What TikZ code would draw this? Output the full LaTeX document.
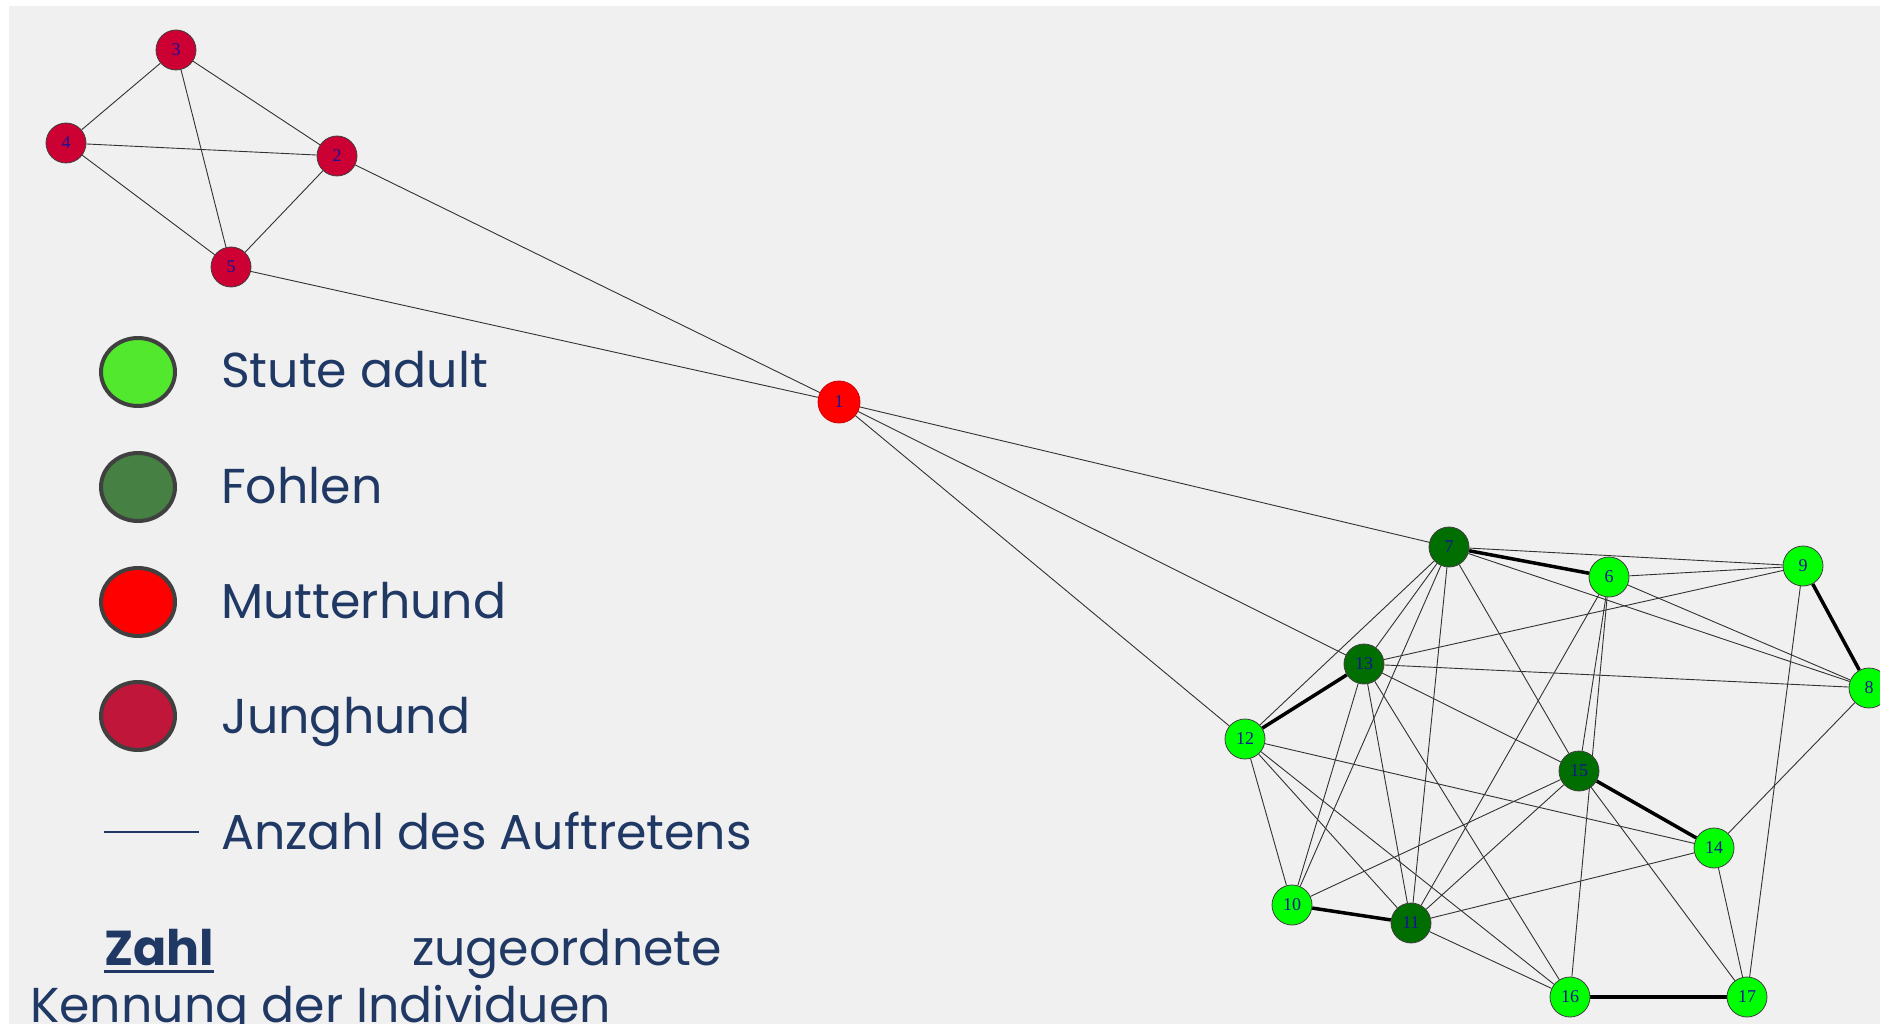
\documentclass[tikz,border=0pt]{standalone}
\usepackage{fontspec}
\newfontfamily\legfont{Poppins}
\newfontfamily\numfont{Liberation Serif}
\usetikzlibrary{shapes.geometric}
\pgfdeclarelayer{bg}
\pgfdeclarelayer{edges}
\pgfsetlayers{bg,edges,main}
\definecolor{bggray}{HTML}{F0F0F0}
\definecolor{jungnode}{RGB}{204,0,51}
\definecolor{mutternode}{RGB}{255,0,0}
\definecolor{stutenode}{RGB}{0,255,0}
\definecolor{fohlennode}{RGB}{0,110,0}
\definecolor{legstute}{RGB}{82,232,45}
\definecolor{legfohlen}{RGB}{70,128,66}
\definecolor{legmutter}{RGB}{255,0,0}
\definecolor{legjung}{RGB}{192,22,58}
\definecolor{legtext}{RGB}{32,56,100}
\definecolor{numblue}{RGB}{20,20,150}
\definecolor{edgegray}{RGB}{50,50,50}
\definecolor{legborder}{RGB}{64,64,64}
\begin{document}
\begin{tikzpicture}[x=1pt,y=-1pt,
  animal/.style={circle,minimum size=40pt,inner sep=0pt,draw=black!75,line width=0.8pt,
    font=\numfont\fontsize{18}{18}\selectfont,text=numblue},
  jung/.style={animal,fill=jungnode},
  mutter/.style={animal,fill=mutternode,draw=mutternode!80!black,minimum size=42pt},
  stute/.style={animal,fill=stutenode},
  fohlen/.style={animal,fill=fohlennode},
  thin edge/.style={draw=edgegray,line width=0.9pt},
  thick edge/.style={draw=black,line width=3.5pt},
  legdot/.style={ellipse,minimum width=74pt,minimum height=68pt,inner sep=0pt,draw=legborder,line width=4pt},
  legtxt/.style={anchor=base west,inner sep=0pt,text=legtext,font=\legfont\fontsize{49}{49}\selectfont}
]
\useasboundingbox (0,0) rectangle (1880,1024);
\begin{pgfonlayer}{bg}
  \fill[white] (0,0) rectangle (1880,1024);
  \fill[bggray] (9,6) rectangle (1880,1024);
\end{pgfonlayer}

% top group
\node[jung] (n3) at (176,50) {3};
\node[jung] (n4) at (66,143) {4};
\node[jung] (n2) at (337,156) {2};
\node[jung] (n5) at (231,267) {5};
\node[mutter] (n1) at (839,402) {1};
% cluster
\node[fohlen] (n7) at (1449,547) {7};
\node[stute] (n6) at (1609,577) {6};
\node[stute] (n9) at (1803,566) {9};
\node[stute] (n8) at (1869,688) {8};
\node[fohlen] (n13) at (1364,664) {13};
\node[stute] (n12) at (1245,739) {12};
\node[fohlen] (n15) at (1579,771) {15};
\node[stute] (n14) at (1714,848) {14};
\node[stute] (n10) at (1292,905) {10};
\node[fohlen] (n11) at (1411,923) {11};
\node[stute] (n16) at (1570,997) {16};
\node[stute] (n17) at (1747,997) {17};

\begin{pgfonlayer}{edges}
  \foreach \a/\b in {1/2,1/5,1/7,1/13,1/12,2/3,2/4,2/5,3/4,3/5,4/5,
      7/9,7/8,7/13,7/12,7/10,7/11,7/15,
      6/9,6/8,6/15,6/16,6/11,
      9/13,9/17,8/13,8/14,
      13/15,13/10,13/11,13/16,
      12/14,12/10,12/11,12/16,
      15/10,15/11,15/17,14/11,14/17,11/16}
    \path[thin edge] (n\a) -- (n\b);
  \foreach \a/\b in {7/6,9/8,13/12,15/14,10/11,16/17}
    \path[thick edge] (n\a) -- (n\b);
\end{pgfonlayer}

% legend
\node[legdot,fill=legstute] (lstute) at (138,372) {};
\node[legdot,fill=legfohlen] (lfohlen) at (138,487) {};
\node[legdot,fill=legmutter] (lmutter) at (138,602) {};
\node[legdot,fill=legjung] (ljung) at (138,716) {};
\node[legtxt] (tstute) at (221,388) {Stute adult};
\node[legtxt] (tfohlen) at (221,503) {Fohlen};
\node[legtxt] (tmutter) at (221,618) {Mutterhund};
\node[legtxt] (tjung) at (221,733) {Junghund};
\coordinate (la) at (104,832);
\coordinate (lb) at (199,832);
\draw[legtext,line width=1.5pt] (la) -- (lb);
\node[legtxt] (tanzahl) at (221,849) {Anzahl des Auftretens};
\node[legtxt] (tzahl) at (104,965) {\bfseries\sbox0{Zahl}\usebox0\llap{\rule[-8pt]{\wd0}{3.5pt}}};
\node[legtxt] (tzug) at (412,965) {zugeordnete};
\node[legtxt] (tkenn) at (30,1022) {Kennung der Individuen};
\end{tikzpicture}
\end{document}
